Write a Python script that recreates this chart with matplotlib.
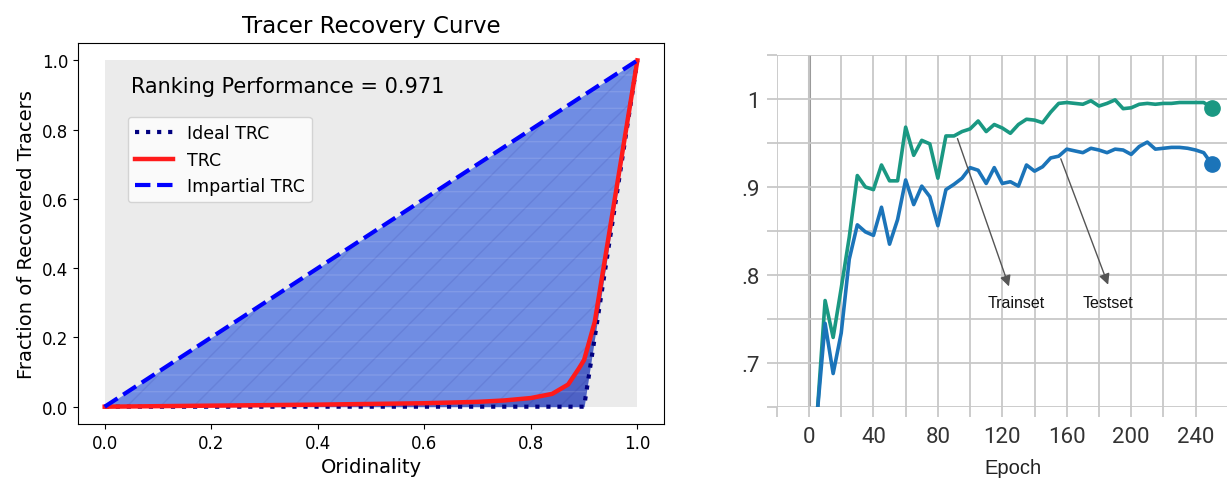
import matplotlib
matplotlib.use('Agg')
import matplotlib.pyplot as plt
from matplotlib.ticker import FixedLocator

# left panel: tracer recovery curve
ideal_x = [0.0, 0.9, 1.0]
ideal_y = [0.0, 0.0, 1.0]
trc_x = [0.0, 0.2, 0.4, 0.6, 0.7, 0.75, 0.8, 0.84, 0.87, 0.89, 0.90, 0.92, 1.0]
trc_y = [0.0, 0.003, 0.006, 0.010, 0.014, 0.018, 0.025, 0.037, 0.064, 0.11, 0.135, 0.245, 1.0]
impartial_x = [0.0, 1.0]
impartial_y = [0.0, 1.0]
ranking_perf = 0.971

# right panel: accuracy per epoch
epochs = list(range(5, 255, 5))
train_acc = [0.64, 0.771, 0.729, 0.785, 0.843, 0.913, 0.900, 0.897, 0.925, 0.907,
             0.907, 0.968, 0.936, 0.953, 0.949, 0.910, 0.958, 0.958, 0.963, 0.966,
             0.975, 0.963, 0.971, 0.967, 0.961, 0.971, 0.977, 0.976, 0.973, 0.985,
             0.995, 0.996, 0.995, 0.994, 0.998, 0.992, 0.995, 0.999, 0.989, 0.990,
             0.994, 0.995, 0.994, 0.995, 0.995, 0.996, 0.996, 0.996, 0.996, 0.990]
test_acc = [0.64, 0.745, 0.688, 0.734, 0.818, 0.857, 0.849, 0.845, 0.877, 0.835,
            0.863, 0.908, 0.880, 0.901, 0.889, 0.856, 0.897, 0.903, 0.910, 0.922,
            0.919, 0.904, 0.922, 0.904, 0.906, 0.901, 0.925, 0.918, 0.923, 0.933,
            0.935, 0.943, 0.941, 0.939, 0.944, 0.942, 0.939, 0.943, 0.942, 0.937,
            0.946, 0.951, 0.943, 0.944, 0.945, 0.945, 0.944, 0.942, 0.939, 0.926]
x_ticks = [0, 40, 80, 120, 160, 200, 240]
x_grid = [-20, 0, 20, 40, 60, 80, 100, 120, 140, 160, 180, 200, 220, 240]
y_ticks = [0.65, 0.7, 0.75, 0.8, 0.85, 0.9, 0.95, 1.0, 1.05]
y_tick_labels = ['', '.7', '', '.8', '', '.9', '', '1', '']
train_note = ((91.6, 0.958), (124.7, 0.784), (128.6, 0.769))
test_note = ((155.7, 0.935), (186.3, 0.786), (185.6, 0.769))

fig = plt.figure(figsize=(12.31, 4.81), dpi=100)

# ---- left ----
ax = fig.add_axes([0.0634, 0.1164, 0.476, 0.792])
ax.fill_between([0, 1], 0, 1, color='#ebebeb', lw=0, zorder=0)

# interpolate ideal and impartial curves on the TRC grid for the fills
def interp(xs, xp, fp):
    out = []
    for x in xs:
        for i in range(len(xp) - 1):
            if xp[i] <= x <= xp[i + 1]:
                t = (x - xp[i]) / (xp[i + 1] - xp[i])
                out.append(fp[i] + t * (fp[i + 1] - fp[i]))
                break
    return out

grid = sorted(set(trc_x + ideal_x))
ideal_g = interp(grid, ideal_x, ideal_y)
trc_g = interp(grid, trc_x, trc_y)
diag_g = interp(grid, impartial_x, impartial_y)

ax.fill_between(grid, diag_g, ideal_g, color='royalblue', alpha=0.72, lw=0, zorder=1)
ax.fill_between(grid, trc_g, ideal_g, color='navy', alpha=0.3, lw=0, zorder=2)
ax.fill_between(grid, diag_g, ideal_g, facecolor='none', edgecolor=(1, 1, 1, 0.12),
                hatch='-', lw=0, zorder=2)
ax.fill_between(grid, diag_g, ideal_g, facecolor='none', edgecolor=(0.1, 0.1, 0.5, 0.1),
                hatch='/', lw=0, zorder=2)

ax.plot(ideal_x, ideal_y, ':', color='navy', lw=3, label='Ideal TRC', zorder=3)
ax.plot(trc_x, trc_y, '-', color='#ff1a1a', lw=3.2, label='TRC', zorder=4)
ax.plot(impartial_x, impartial_y, '--', color='blue', lw=3, label='Impartial TRC', zorder=5)

ax.set_xlim(-0.05, 1.05)
ax.set_ylim(-0.05, 1.05)
ax.set_xticks([0, 0.2, 0.4, 0.6, 0.8, 1.0])
ax.set_yticks([0, 0.2, 0.4, 0.6, 0.8, 1.0])
ax.tick_params(labelsize=12)
ax.set_title('Tracer Recovery Curve', fontsize=16.5, pad=8)
ax.set_xlabel('Oridinality', fontsize=14)
ax.set_ylabel('Fraction of Recovered Tracers', fontsize=14)
ax.text(0.05, 0.91, f'Ranking Performance = {ranking_perf}', fontsize=15)
ax.legend(loc='upper left', bbox_to_anchor=(0.085, 0.806), borderaxespad=0,
          fontsize=12.5, handlelength=2.2)

# ---- right ----
ax2 = fig.add_axes([0.631, 0.1518, 0.3658, 0.7318])
for s in ax2.spines.values():
    s.set_visible(False)
ax2.set_xlim(-20, 259.5)
ax2.set_ylim(0.65, 1.05)
ax2.xaxis.set_major_locator(FixedLocator(x_grid))
ax2.set_xticklabels([str(v) if v in x_ticks else '' for v in x_grid])
ax2.yaxis.set_major_locator(FixedLocator(y_ticks))
ax2.set_yticklabels(y_tick_labels)
ax2.grid(True, color='#c8c8c8', lw=1.3, zorder=0)
ax2.tick_params(length=7, width=1.3, color='#c8c8c8', labelcolor='#333333',
                labelsize=16)
ax2.tick_params(axis='x', pad=7)
ax2.tick_params(axis='y', pad=5)
for lab in ax2.get_xticklabels() + ax2.get_yticklabels():
    lab.set_family('Roboto')
ax2.axvline(0, color='#9a9a9a', lw=2.2, zorder=1)

green = '#1a9882'
blue = '#1b74b9'
ax2.plot(epochs, train_acc, color=green, lw=2.6, zorder=3)
ax2.plot(epochs, test_acc, color=blue, lw=2.6, zorder=3)
ax2.plot(epochs[-1], train_acc[-1], 'o', color=green, ms=11, zorder=4)
ax2.plot(epochs[-1], test_acc[-1], 'o', color=blue, ms=11, zorder=4)

for (start, head, txt), name in [(train_note, 'Trainset'), (test_note, 'Testset')]:
    ax2.annotate('', xy=head, xytext=start,
                 arrowprops=dict(arrowstyle='-|>', color='#555555', lw=1,
                                 mutation_scale=16))
    ax2.text(txt[0], txt[1], name, ha='center', va='center', fontsize=11.5,
             family='Liberation Sans', color='#111111')

ax2.set_xlabel('Epoch', fontsize=14.5, family='Liberation Sans', color='#222222')
ax2.xaxis.set_label_coords(0.525, -0.145)

fig.savefig('out.png', dpi=100)
